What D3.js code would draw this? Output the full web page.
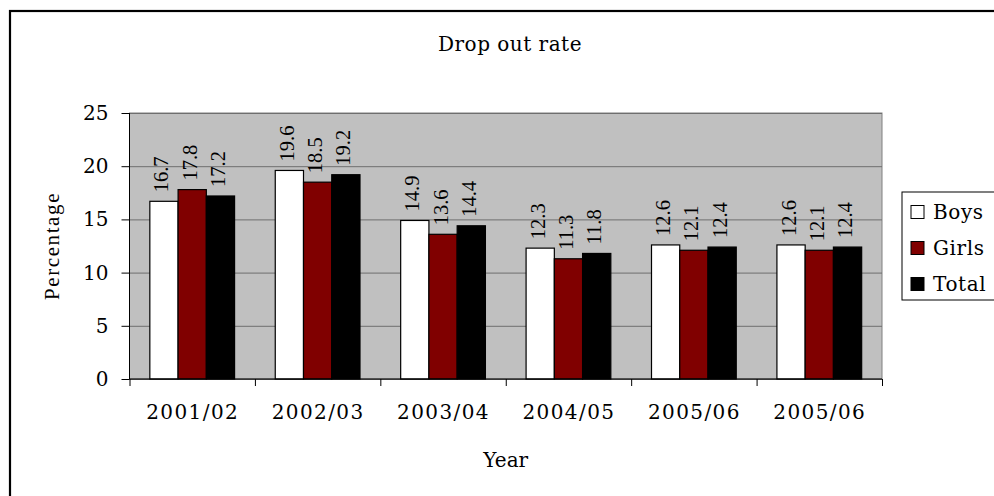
<!DOCTYPE html>
<html>
<head>
<meta charset="utf-8">
<script src="https://cdn.jsdelivr.net/npm/d3@7"></script>
<style>
  body { margin: 0; background: #fff; }
  text { font-family: "DejaVu Serif", serif; fill: #000; }
</style>
</head>
<body>
<div id="chart"></div>
<script>
// data
var years = ["2001/02", "2002/03", "2003/04", "2004/05", "2005/06", "2005/06"]
var series = ["Boys", "Girls", "Total"]
var boys = [16.7, 19.6, 14.9, 12.3, 12.6, 12.6]
var girls = [17.8, 18.5, 13.6, 11.3, 12.1, 12.1]
var total = [17.2, 19.2, 14.4, 11.8, 12.4, 12.4]
var yTicks = [0, 5, 10, 15, 20, 25]
var colors = ["#ffffff", "#800000", "#000000"]

var values = [boys, girls, total]

var W = 994, H = 496
var margin = {top: 113, right: 112, bottom: 117, left: 129.5},
    width = W - margin.left - margin.right,
    height = H - margin.top - margin.bottom;

var root = d3.select("#chart")
  .append("svg")
    .attr("width", W)
    .attr("height", H)

// outer frame (cut off at right and bottom like the picture)
root.append("rect")
  .attr("x", 10).attr("y", 11)
  .attr("width", 1000).attr("height", 500)
  .attr("fill", "none")
  .attr("stroke", "#000")
  .attr("stroke-width", 2.2)

root.append("text")
  .attr("x", 510).attr("y", 51)
  .attr("text-anchor", "middle")
  .style("font-size", "20px")
  .style("letter-spacing", "0.5px")
  .text("Drop out rate")

var svg = root.append("g")
  .attr("transform", "translate(" + margin.left + "," + margin.top + ")")

// plot background
svg.append("rect")
  .attr("width", width).attr("height", height)
  .attr("fill", "#c0c0c0")
  .attr("stroke", "#808080")

var idx = d3.range(years.length)

var x0 = d3.scaleBand()
  .domain(idx)
  .range([0, width])

var x1 = d3.scaleBand()
  .domain(series)
  .range([0, x0.bandwidth()])
  .paddingOuter(0.72)

var xb = d3.scaleLinear()
  .domain([0, years.length])
  .range([0, width])

var y = d3.scaleLinear()
  .domain([0, 25])
  .range([height, 0])

// gridlines
svg.append("g")
  .attr("class", "grid")
  .call(d3.axisLeft(y).tickValues(yTicks).tickSize(-width).tickFormat(""))
  .call(function(g) { g.select(".domain").remove() })
  .selectAll("line")
    .attr("stroke", "#6e6e6e")

// bars
var groups = svg.append("g")
  .selectAll("g")
  .data(idx)
  .enter()
  .append("g")
    .attr("transform", function(i) { return "translate(" + x0(i) + ",0)" })

groups.selectAll("rect")
  .data(function(i) { return series.map(function(s, k) { return {s: s, k: k, v: values[k][i]} }) })
  .enter()
  .append("rect")
    .attr("x", function(d) { return x1(d.s) })
    .attr("y", function(d) { return y(d.v) })
    .attr("width", x1.bandwidth())
    .attr("height", function(d) { return height - y(d.v) })
    .attr("fill", function(d) { return colors[d.k] })
    .attr("stroke", "#000")
    .attr("stroke-width", 1.2)

// value labels, rotated
groups.selectAll("text")
  .data(function(i) { return series.map(function(s, k) { return {s: s, k: k, v: values[k][i]} }) })
  .enter()
  .append("text")
    .attr("transform", function(d) {
      return "translate(" + (x1(d.s) + x1.bandwidth() / 2 + 4.5) + "," + (y(d.v) - 9) + ") rotate(-90)"
    })
    .style("font-family", "Liberation Serif, serif")
    .style("font-size", "20.5px")
    .text(function(d) { return d.v.toFixed(1) })

// y axis
var yAxis = svg.append("g")
  .call(d3.axisLeft(y).tickValues(yTicks).tickSize(8).tickPadding(13))
yAxis.select(".domain").attr("stroke", "#000").attr("d", "M0,0V" + height)
yAxis.selectAll("line").attr("stroke", "#000")
yAxis.selectAll("text")
  .style("font-size", "20px")
  .style("font-family", "DejaVu Serif, serif")

// x axis
var xAxis = svg.append("g")
  .attr("transform", "translate(0," + height + ")")
  .call(d3.axisBottom(xb).ticks(years.length).tickSize(7).tickFormat(""))
xAxis.select(".domain").attr("stroke", "#000").attr("d", "M0,0H" + width)
xAxis.selectAll("line").attr("stroke", "#000")

svg.append("g")
  .selectAll("text")
  .data(idx)
  .enter()
  .append("text")
    .attr("x", function(i) { return x0(i) + x0.bandwidth() / 2 + 0.5 })
    .attr("y", height + 40)
    .attr("text-anchor", "middle")
    .style("font-size", "20px")
    .style("letter-spacing", "1.4px")
    .text(function(i) { return years[i] })

// axis titles
svg.append("text")
  .attr("x", width / 2)
  .attr("y", height + 88)
  .attr("text-anchor", "middle")
  .style("font-size", "20px")
  .text("Year")

svg.append("text")
  .attr("transform", "rotate(-90)")
  .attr("x", -height / 2)
  .attr("y", -margin.left + 59)
  .attr("text-anchor", "middle")
  .style("font-family", "Liberation Serif, serif")
  .style("font-size", "21px")
  .style("letter-spacing", "1.6px")
  .text("Percentage")

// legend
var legend = root.append("g")
  .attr("transform", "translate(902,192)")

legend.append("rect")
  .attr("width", 110).attr("height", 108)
  .attr("fill", "#fff")
  .attr("stroke", "#000")

var ly = d3.scalePoint()
  .domain(series)
  .range([20, 92])

var item = legend.selectAll(".item")
  .data(series)
  .enter()
  .append("g")
    .attr("transform", function(s) { return "translate(0," + ly(s) + ")" })

item.append("rect")
  .attr("x", 9).attr("y", -6.5)
  .attr("width", 13).attr("height", 13)
  .attr("fill", function(s, k) { return colors[k] })
  .attr("stroke", "#000")

item.append("text")
  .attr("x", 31).attr("y", 7)
  .style("font-size", "20px")
  .style("letter-spacing", "0.6px")
  .text(function(s) { return s })
</script>
</body>
</html>
